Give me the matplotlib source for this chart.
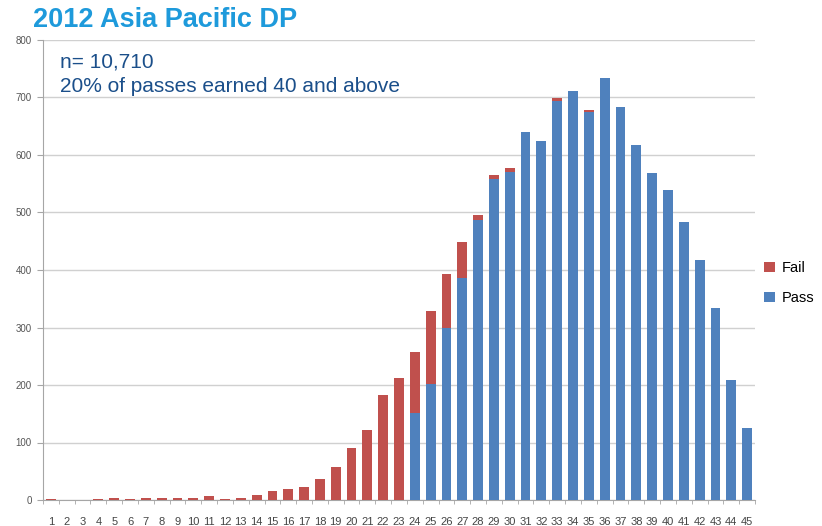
import matplotlib
matplotlib.use("Agg")
import matplotlib.pyplot as plt
import numpy as np

scores = list(range(1, 46))
fail = [1, 0, 0, 1, 3, 1, 3, 3, 4, 3, 7, 2, 4, 9, 15, 19, 23, 37, 57, 91, 121, 183, 212,
        106, 127, 94, 63, 9, 7, 7, 0, 0, 5, 0, 4, 0, 0, 0, 0, 0, 0, 0, 0, 0, 0]
passed = [0] * 23 + [151, 202, 299, 386, 487, 558, 570, 640, 624, 694, 711, 674, 734, 684,
                     617, 568, 539, 484, 417, 334, 209, 125]
title = "2012 Asia Pacific DP"
note_lines = ["n= 10,710", "20% of passes earned 40 and above"]
yticks = [0, 100, 200, 300, 400, 500, 600, 700, 800]

plt.rcParams['font.family'] = ['Liberation Sans', 'DejaVu Sans']

fig = plt.figure(figsize=(8.22, 5.26), dpi=100)
ax = fig.add_axes([43 / 822, 26 / 526, (755 - 43) / 822, (500 - 40) / 526])

x = np.arange(len(scores))
blue = "#4F81BD"
red = "#C0504D"
ax.bar(x, passed, width=0.62, color=blue, label="Pass", zorder=3)
ax.bar(x, fail, width=0.62, bottom=passed, color=red, label="Fail", zorder=3)

ax.set_xlim(-0.5, len(scores) - 0.5)
ax.set_ylim(0, 800)
ax.set_yticks(yticks)
ax.set_yticklabels([str(v) for v in yticks], fontsize=7, color="#555555")
ax.set_xticks(x)
ax.set_xticklabels([str(s) for s in scores], fontsize=8, color="#444444")
ax.set_xticks(np.arange(len(scores) + 1) - 0.5, minor=True)
ax.tick_params(axis='x', which='major', length=0, pad=12)
ax.tick_params(axis='x', which='minor', length=3, color="#A6A6A6")
ax.tick_params(axis='y', length=4, color="#A6A6A6", pad=4)

ax.grid(axis='y', color="#D0D0D0", linewidth=1, zorder=0)
for s in ['top', 'right']:
    ax.spines[s].set_visible(False)
for s in ['left', 'bottom']:
    ax.spines[s].set_color("#A6A6A6")

handles, labels = ax.get_legend_handles_labels()
fig.legend(handles[::-1], labels[::-1], loc='center left', bbox_to_anchor=(760 / 822, 1 - 283 / 526),
           frameon=False, fontsize=10.5, handlelength=0.7, handleheight=0.7, handletextpad=0.5,
           labelspacing=1.1, borderaxespad=0, borderpad=0.3)

fig.text(33 / 822, 1 - 20 / 526, title, fontsize=19.5, fontweight='bold', color="#1E9ADB",
         va='center', ha='left')
fig.text(60 / 822, 1 - 62 / 526, note_lines[0], fontsize=15, color="#1B4F8A", va='center', ha='left')
fig.text(60 / 822, 1 - 87 / 526, note_lines[1], fontsize=15, color="#1B4F8A", va='center', ha='left')

fig.savefig("out.png", dpi=100)
